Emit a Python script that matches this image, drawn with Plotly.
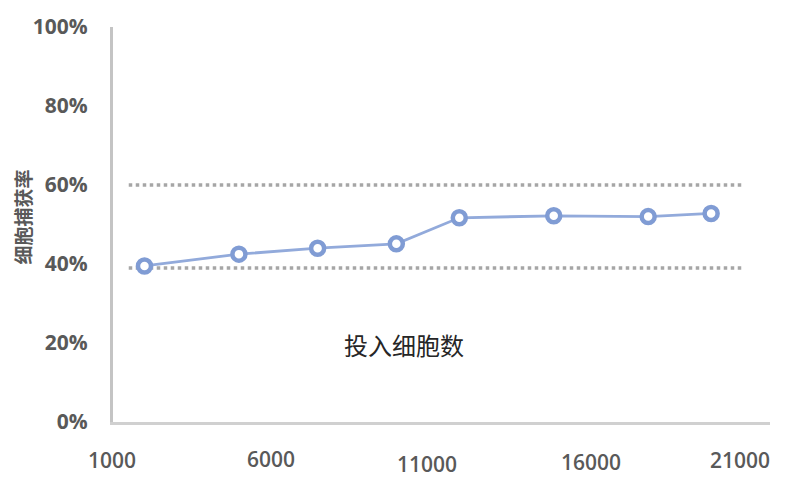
import plotly.graph_objects as go

# data
cells_input = [2000, 5000, 7500, 10000, 12000, 15000, 18000, 20000]
capture_rate = [0.395, 0.425, 0.44, 0.451, 0.517, 0.522, 0.520, 0.528]
ref_x = [1500, 21000]
ref_upper = [0.60, 0.60]
ref_lower = [0.39, 0.39]
x_tick_vals = [1000, 6000, 11000, 16000, 21000]
x_tick_text = ["1000", "6000", "11000", "16000", "21000"]
y_tick_vals = [0, 0.2, 0.4, 0.6, 0.8, 1.0]

# per-tick label offsets (style)
x_tick_yshift = [-38, -37, -42, -40, -38]
x_tick_xshift = [-1, 1, -1, 6, -3]

fig = go.Figure()
dot = dict(color="#a6a6a6", width=3.5, dash="dot")
fig.add_trace(go.Scatter(x=ref_x, y=ref_upper, mode="lines", line=dot, hoverinfo="skip"))
fig.add_trace(go.Scatter(x=ref_x, y=ref_lower, mode="lines", line=dot, hoverinfo="skip"))
fig.add_trace(go.Scatter(
    x=cells_input, y=capture_rate, mode="lines+markers",
    line=dict(color="#92aadb", width=2.8),
    marker=dict(symbol="circle", size=13, color="white",
                line=dict(color="#809cd4", width=4.5)),
))

for v, t, dy, dx in zip(x_tick_vals, x_tick_text, x_tick_yshift, x_tick_xshift):
    fig.add_annotation(x=v, y=0, xref="x", yref="y", text=t, showarrow=False,
                       yshift=dy, xshift=dx,
                       font=dict(family="Open Sans", size=21, color="#595959", weight=600))

fig.add_annotation(x=10250, y=0.195, xref="x", yref="y", text="投入细胞数", showarrow=False,
                   font=dict(family="Noto Sans CJK SC", size=24, color="#262626"))

# y-axis title
fig.add_annotation(x=-0.137, y=0.52, xref="paper", yref="y", text="细胞捕获率", showarrow=False,
                   textangle=-90, xanchor="center", yanchor="middle",
                   font=dict(family="Noto Sans CJK SC", size=19, color="#595959", weight="bold"))

# page body has an 8px default margin, so the figure is sized to fit the window
fig.update_layout(
    width=784, height=469,
    margin=dict(l=105, r=22, t=19, b=55, autoexpand=False),
    paper_bgcolor="white", plot_bgcolor="white",
    showlegend=False,
    xaxis=dict(range=[1000, 21870], showgrid=False, zeroline=False, showticklabels=False,
               showline=True, linecolor="#d0d0d0", linewidth=3, ticks=""),
    yaxis=dict(range=[0, 1], tickvals=y_tick_vals, tickformat=".0%",
               showgrid=False, zeroline=False,
               showline=True, linecolor="#c4c4c4", linewidth=3,
               ticks="outside", ticklen=18, tickcolor="rgba(0,0,0,0)",
               tickfont=dict(family="Open Sans", size=21, color="#595959", weight="bold")),
)

fig.write_html("out.html")
